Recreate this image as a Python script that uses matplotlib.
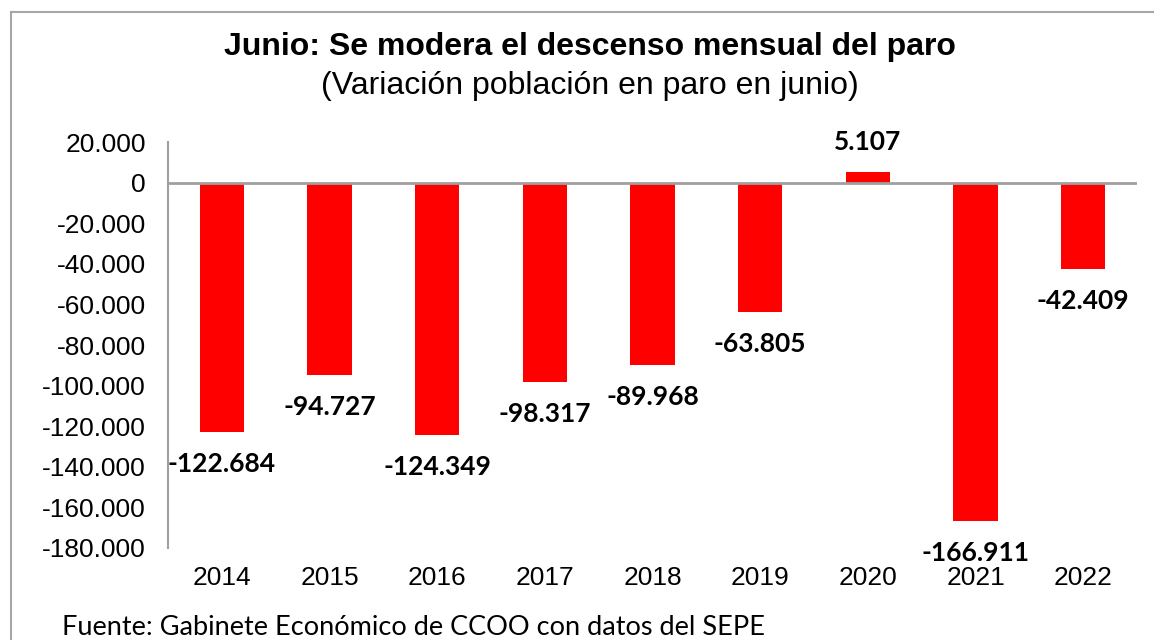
import matplotlib.pyplot as plt
from matplotlib.lines import Line2D

# Datos
anios = ["2014", "2015", "2016", "2017", "2018", "2019", "2020", "2021", "2022"]
variacion = [-122684, -94727, -124349, -98317, -89968, -63805, 5107, -166911, -42409]
ticks_y = list(range(-180000, 20001, 20000))

def miles(v):
    return f"{v:,.0f}".replace(",", ".")

fig = plt.figure(figsize=(11.54, 6.4), dpi=100)
ax = fig.add_axes([0.1456, 0.1438, 0.8397, 0.634])

x = range(len(anios))
ax.bar(x, variacion, width=0.41, color="#FF0000", zorder=2)
ax.set_xlim(-0.5, len(anios) - 0.5)
ax.set_ylim(-180000, 20000)
ax.set_yticks(ticks_y)
ax.set_yticklabels([miles(t) for t in ticks_y], fontsize=19, family="Liberation Sans")
ax.set_xticks(list(x))
ax.set_xticklabels(anios, fontsize=19, family="Liberation Sans")
ax.tick_params(axis="y", length=0, pad=16)
ax.tick_params(axis="x", length=0, pad=13)

for s in ["top", "right", "bottom"]:
    ax.spines[s].set_visible(False)
ax.spines["left"].set_color("#A0A0A0")
ax.spines["left"].set_linewidth(1.5)
ax.axhline(0, color="#A0A0A0", linewidth=2, zorder=3)

# Etiquetas de valores
for i, v in enumerate(variacion):
    off = -23 if v < 0 else 22
    ax.annotate(miles(v), (i, v), xytext=(0, off), textcoords="offset points",
                ha="center", va="center", fontsize=19, fontweight="bold",
                family="Lato", color="black")

# Titulos
fig.text(0.511, 0.926, "Junio: Se modera el descenso mensual del paro",
         ha="center", va="center", fontsize=23, fontweight="bold", family="Liberation Sans")
fig.text(0.511, 0.866, "(Variación población en paro en junio)",
         ha="center", va="center", fontsize=23, family="Liberation Sans")
fig.text(0.054, 0.02, "Fuente: Gabinete Económico de CCOO con datos del SEPE",
         ha="left", va="center", fontsize=19.5, family="Lato")

# Marco
borde = "#A6A6A6"
fig.add_artist(Line2D([0.0095, 0.0095], [0.0, 0.981], transform=fig.transFigure,
                      color=borde, linewidth=1.5))
fig.add_artist(Line2D([0.0095, 1.0], [0.981, 0.981], transform=fig.transFigure,
                      color=borde, linewidth=1.5))

fig.savefig("out.png", dpi=100)
